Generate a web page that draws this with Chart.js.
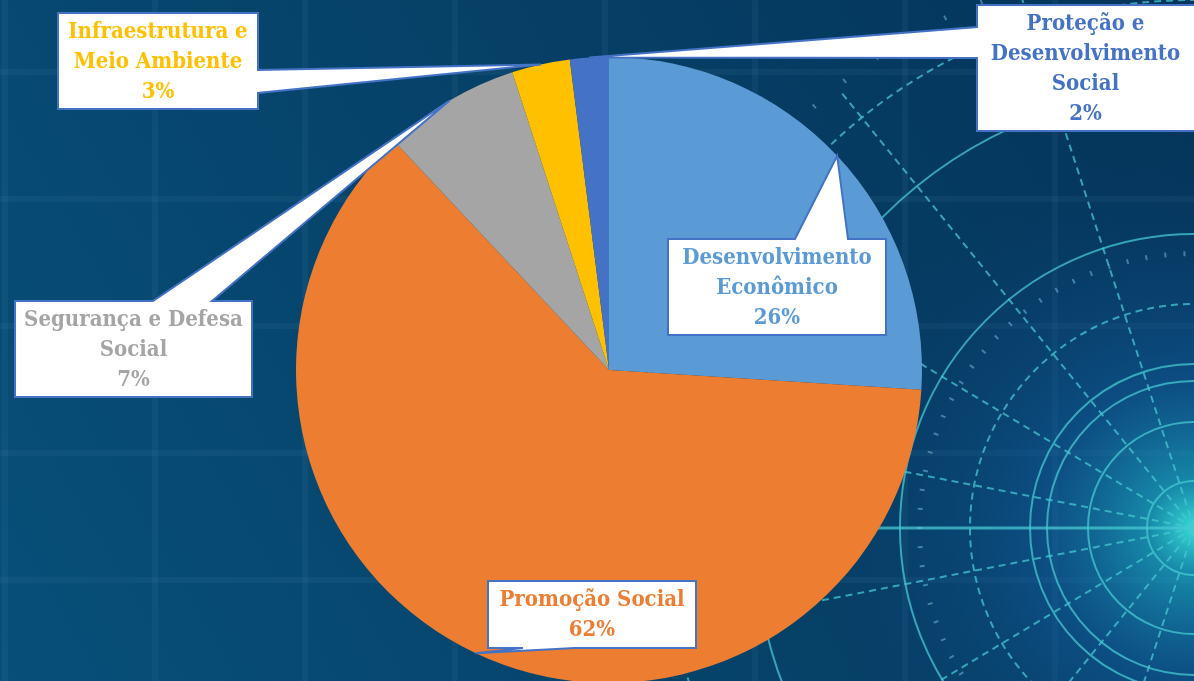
<!DOCTYPE html>
<html lang="pt-BR">
<head>
<meta charset="utf-8">
<title>Distribuição por área</title>
<script src="https://cdn.jsdelivr.net/npm/chart.js"></script>
<style>
	html, body {
		margin: 0;
		padding: 0;
		overflow: hidden;
		background: #074a6c;
	}
	#wrap {
		width: 1194px;
		height: 700px;
	}
</style>
</head>
<body>
<div id="wrap">
	<canvas id="pie" width="1194" height="700"></canvas>
</div>
<script>
// dados do gráfico
const categories = [
	'Desenvolvimento Econômico',
	'Promoção Social',
	'Segurança e Defesa Social',
	'Infraestrutura e Meio Ambiente',
	'Proteção e Desenvolvimento Social'
];
const values = [26, 62, 7, 3, 2];
const sliceColors = ['#5B9BD5', '#ED7D31', '#A5A5A5', '#FFC000', '#4472C4'];
// quebra de linha dos rótulos (o percentual é acrescentado depois)
const labelLines = [
	['Desenvolvimento', 'Econômico'],
	['Promoção Social'],
	['Segurança e Defesa', 'Social'],
	['Infraestrutura e', 'Meio Ambiente'],
	['Proteção e', 'Desenvolvimento', 'Social']
];

// posição das caixas de rótulo (x, y, w, h) e de onde sai o "rabinho"
const calloutBoxes = [
	{ x: 668, y: 239, w: 218, h: 96, side: 'top', a: 795, b: 848 },
	{ x: 488, y: 581, w: 208, h: 67, side: 'bottom', a: 523, b: 575 },
	{ x: 15, y: 301, w: 237, h: 96, side: 'top', a: 153, b: 212 },
	{ x: 58, y: 13, w: 200, h: 96, side: 'right', a: 70, b: 93 },
	{ x: 977, y: 5, w: 222, h: 126, side: 'left', a: 27, b: 58 }
];

const FONT = "bold 22px 'DejaVu Serif Condensed', 'DejaVu Serif', serif";
const LINE_H = 30;

// fundo azul com o "radar" à direita
const backgroundPlugin = {
	id: 'radarBackground',
	beforeDraw(chart) {
		const ctx = chart.ctx;
		const W = chart.width, H = chart.height;
		ctx.save();

		var bg = ctx.createLinearGradient(0, H, W, 0);
		bg.addColorStop(0, '#07507a');
		bg.addColorStop(0.45, '#06436a');
		bg.addColorStop(1, '#05345a');
		ctx.fillStyle = bg;
		ctx.fillRect(0, 0, W, H);

		// grade clarinha
		ctx.strokeStyle = 'rgba(120,170,210,0.08)';
		ctx.lineWidth = 6;
		for (var gx = 5; gx < W; gx += 150) {
			ctx.beginPath();
			ctx.moveTo(gx, 0);
			ctx.lineTo(gx, H);
			ctx.stroke();
		}
		for (var gy = 72; gy < H; gy += 127) {
			ctx.beginPath();
			ctx.moveTo(0, gy);
			ctx.lineTo(W, gy);
			ctx.stroke();
		}

		var cx = 1194, cy = 528;
		var glow = ctx.createRadialGradient(cx, cy, 0, cx, cy, 380);
		glow.addColorStop(0, 'rgba(60,230,220,0.95)');
		glow.addColorStop(0.12, 'rgba(30,170,200,0.7)');
		glow.addColorStop(0.4, 'rgba(20,100,170,0.45)');
		glow.addColorStop(1, 'rgba(10,60,110,0)');
		ctx.fillStyle = glow;
		ctx.fillRect(0, 0, W, H);

		var line = 'rgba(70,200,210,0.75)';
		ctx.strokeStyle = line;
		ctx.lineWidth = 2;

		// círculos cheios
		[47, 106, 147, 164, 294, 440].forEach(function(r) {
			ctx.beginPath();
			ctx.arc(cx, cy, r, 0, Math.PI * 2);
			ctx.stroke();
		});

		// círculos tracejados
		ctx.setLineDash([7, 5]);
		[224, 528].forEach(function(r) {
			ctx.beginPath();
			ctx.arc(cx, cy, r, 0, Math.PI * 2);
			ctx.stroke();
		});

		// raios tracejados (até o anel externo)
		[11, 31, 51, 72, 92].forEach(function(deg) {
			[1, -1].forEach(function(sgn) {
				var t = Math.PI + sgn * deg * Math.PI / 180;
				ctx.beginPath();
				ctx.moveTo(cx, cy);
				ctx.lineTo(cx + Math.cos(t) * 560, cy + Math.sin(t) * 560);
				ctx.stroke();
			});
		});
		ctx.setLineDash([]);

		// eixo horizontal
		ctx.lineWidth = 3;
		ctx.beginPath();
		ctx.moveTo(cx - 330, cy);
		ctx.lineTo(cx, cy);
		ctx.stroke();

		// anéis de marcação
		ctx.strokeStyle = 'rgba(110,190,210,0.55)';
		ctx.lineWidth = 2;
		[272, 565].forEach(function(r) {
			for (var d = 0; d < 360; d += 4) {
				var t = d * Math.PI / 180;
				ctx.beginPath();
				ctx.moveTo(cx + Math.cos(t) * r, cy + Math.sin(t) * r);
				ctx.lineTo(cx + Math.cos(t) * (r + 5), cy + Math.sin(t) * (r + 5));
				ctx.stroke();
			}
		});

		ctx.restore();
	}
};

function calloutPath(ctx, box, tip) {
	var x0 = box.x, y0 = box.y, x1 = box.x + box.w, y1 = box.y + box.h;
	ctx.beginPath();
	ctx.moveTo(x0, y0);
	if (box.side === 'top') {
		ctx.lineTo(box.a, y0);
		ctx.lineTo(tip.x, tip.y);
		ctx.lineTo(box.b, y0);
	}
	ctx.lineTo(x1, y0);
	if (box.side === 'right') {
		ctx.lineTo(x1, box.a);
		ctx.lineTo(tip.x, tip.y);
		ctx.lineTo(x1, box.b);
	}
	ctx.lineTo(x1, y1);
	if (box.side === 'bottom') {
		ctx.lineTo(box.b, y1);
		ctx.lineTo(tip.x, tip.y);
		ctx.lineTo(box.a, y1);
	}
	ctx.lineTo(x0, y1);
	if (box.side === 'left') {
		ctx.lineTo(x0, box.b);
		ctx.lineTo(tip.x, tip.y);
		ctx.lineTo(x0, box.a);
	}
	ctx.closePath();
}

// caixas de rótulo com ponteiro até a borda da fatia
const calloutPlugin = {
	id: 'callouts',
	afterDraw(chart) {
		const ctx = chart.ctx;
		const meta = chart.getDatasetMeta(0);
		ctx.save();
		meta.data.forEach(function(arc, i) {
			var p = arc.getProps(['x', 'y', 'startAngle', 'endAngle', 'outerRadius'], true);
			var mid = (p.startAngle + p.endAngle) / 2;
			var tip = {
				x: p.x + Math.cos(mid) * p.outerRadius,
				y: p.y + Math.sin(mid) * p.outerRadius
			};
			var box = calloutBoxes[i];

			calloutPath(ctx, box, tip);
			ctx.fillStyle = '#ffffff';
			ctx.fill();
			ctx.strokeStyle = '#4472C4';
			ctx.lineWidth = 2;
			ctx.lineJoin = 'miter';
			ctx.stroke();

			var lines = labelLines[i].concat([values[i] + '%']);
			ctx.font = FONT;
			ctx.fillStyle = sliceColors[i];
			ctx.textAlign = 'center';
			ctx.textBaseline = 'middle';
			var cxText = box.x + Math.min(box.w, 1194 - box.x) / 2;
			var startY = box.y + box.h / 2 - (lines.length - 1) * LINE_H / 2 + 1;
			lines.forEach(function(t, k) {
				ctx.fillText(t, cxText, startY + k * LINE_H);
			});
		});
		ctx.restore();
	}
};

new Chart(document.getElementById('pie'), {
	type: 'pie',
	data: {
		labels: categories,
		datasets: [{
			data: values,
			backgroundColor: sliceColors,
			borderWidth: 0
		}]
	},
	options: {
		responsive: false,
		animation: false,
		layout: {
			padding: { left: 296, right: 272, top: 57, bottom: 17 }
		},
		plugins: {
			legend: { display: false },
			tooltip: { enabled: false }
		}
	},
	plugins: [backgroundPlugin, calloutPlugin]
});
</script>
</body>
</html>
